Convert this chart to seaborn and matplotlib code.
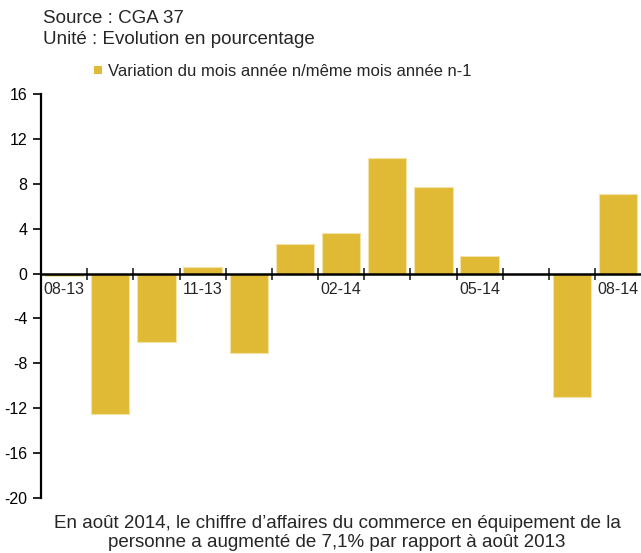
import numpy as np
import pandas as pd
import matplotlib
matplotlib.use("Agg")
import matplotlib.pyplot as plt
import seaborn as sns

months = ["08-13", "09-13", "10-13", "11-13", "12-13", "01-14", "02-14",
          "03-14", "04-14", "05-14", "06-14", "07-14", "08-14"]
variation = [-0.2, -12.5, -6.1, 0.6, -7.1, 2.6, 3.6, 10.3, 7.7, 1.6, 0.0, -11.0, 7.1]
shown_labels = ["08-13", "11-13", "02-14", "05-14", "08-14"]
yticks = [16, 12, 8, 4, 0, -4, -8, -12, -16, -20]

sns.set_style("white")
plt.rcParams["font.family"] = ["Liberation Sans", "DejaVu Sans"]

df = pd.DataFrame({"mois": months, "variation": variation})
bar_color = "#E0BA35"

fig = plt.figure(figsize=(6.41, 5.53), dpi=100)
ax = fig.add_axes([0.064, 0.0995, 0.94, 0.7305])

sns.barplot(data=df, x="mois", y="variation", color=bar_color, saturation=1,
            width=0.83, edgecolor="#F3E3A8", linewidth=0.8, errorbar=None, ax=ax)

ax.set_ylim(-20, 16)
ax.set_xlim(-0.5, 12.55)
ax.set_yticks(yticks)
ax.set_yticklabels([str(v) for v in yticks], fontsize=11.5)
ax.set_xlabel("")
ax.set_ylabel("")

# spines
for s in ["top", "right"]:
    ax.spines[s].set_visible(False)
ax.spines["left"].set_linewidth(1.6)
ax.spines["left"].set_color("black")
ax.spines["bottom"].set_position(("data", 0))
ax.spines["bottom"].set_linewidth(1.8)
ax.spines["bottom"].set_color("black")
ax.spines["bottom"].set_zorder(5)

ax.tick_params(axis="y", direction="out", length=6, width=1.2, left=True, pad=4, colors="black")

# x: labels at centers (no tick marks), tick marks on category boundaries
ax.set_xticks(range(len(months)))
ax.set_xticklabels([m if m in shown_labels else "" for m in months], fontsize=11.5)
ax.tick_params(axis="x", which="major", length=0, pad=6, bottom=True)
ax.set_xticks(np.arange(0.5, len(months) - 0.5, 1), minor=True)
ax.tick_params(axis="x", which="minor", direction="inout", length=8, width=1.2, bottom=True)

# header texts
fig.text(0.067, 0.958, "Source : CGA 37", fontsize=13.5, ha="left", va="baseline")
fig.text(0.067, 0.920, "Unité : Evolution en pourcentage", fontsize=13.5, ha="left", va="baseline")

# legend
fig.patches.append(plt.Rectangle((0.1466, 0.866), 0.0125, 0.0145, transform=fig.transFigure,
                                 facecolor=bar_color, edgecolor="none"))
fig.text(0.1685, 0.863, "Variation du mois année n/même mois année n-1", fontsize=12,
         ha="left", va="baseline")

# footer
fig.text(0.526, 0.045, "En août 2014, le chiffre d’affaires du commerce en équipement de la",
         fontsize=13.5, ha="center", va="baseline")
fig.text(0.526, 0.011, "personne a augmenté de 7,1% par rapport à août 2013",
         fontsize=13.5, ha="center", va="baseline")

fig.savefig("out.png", dpi=100)
